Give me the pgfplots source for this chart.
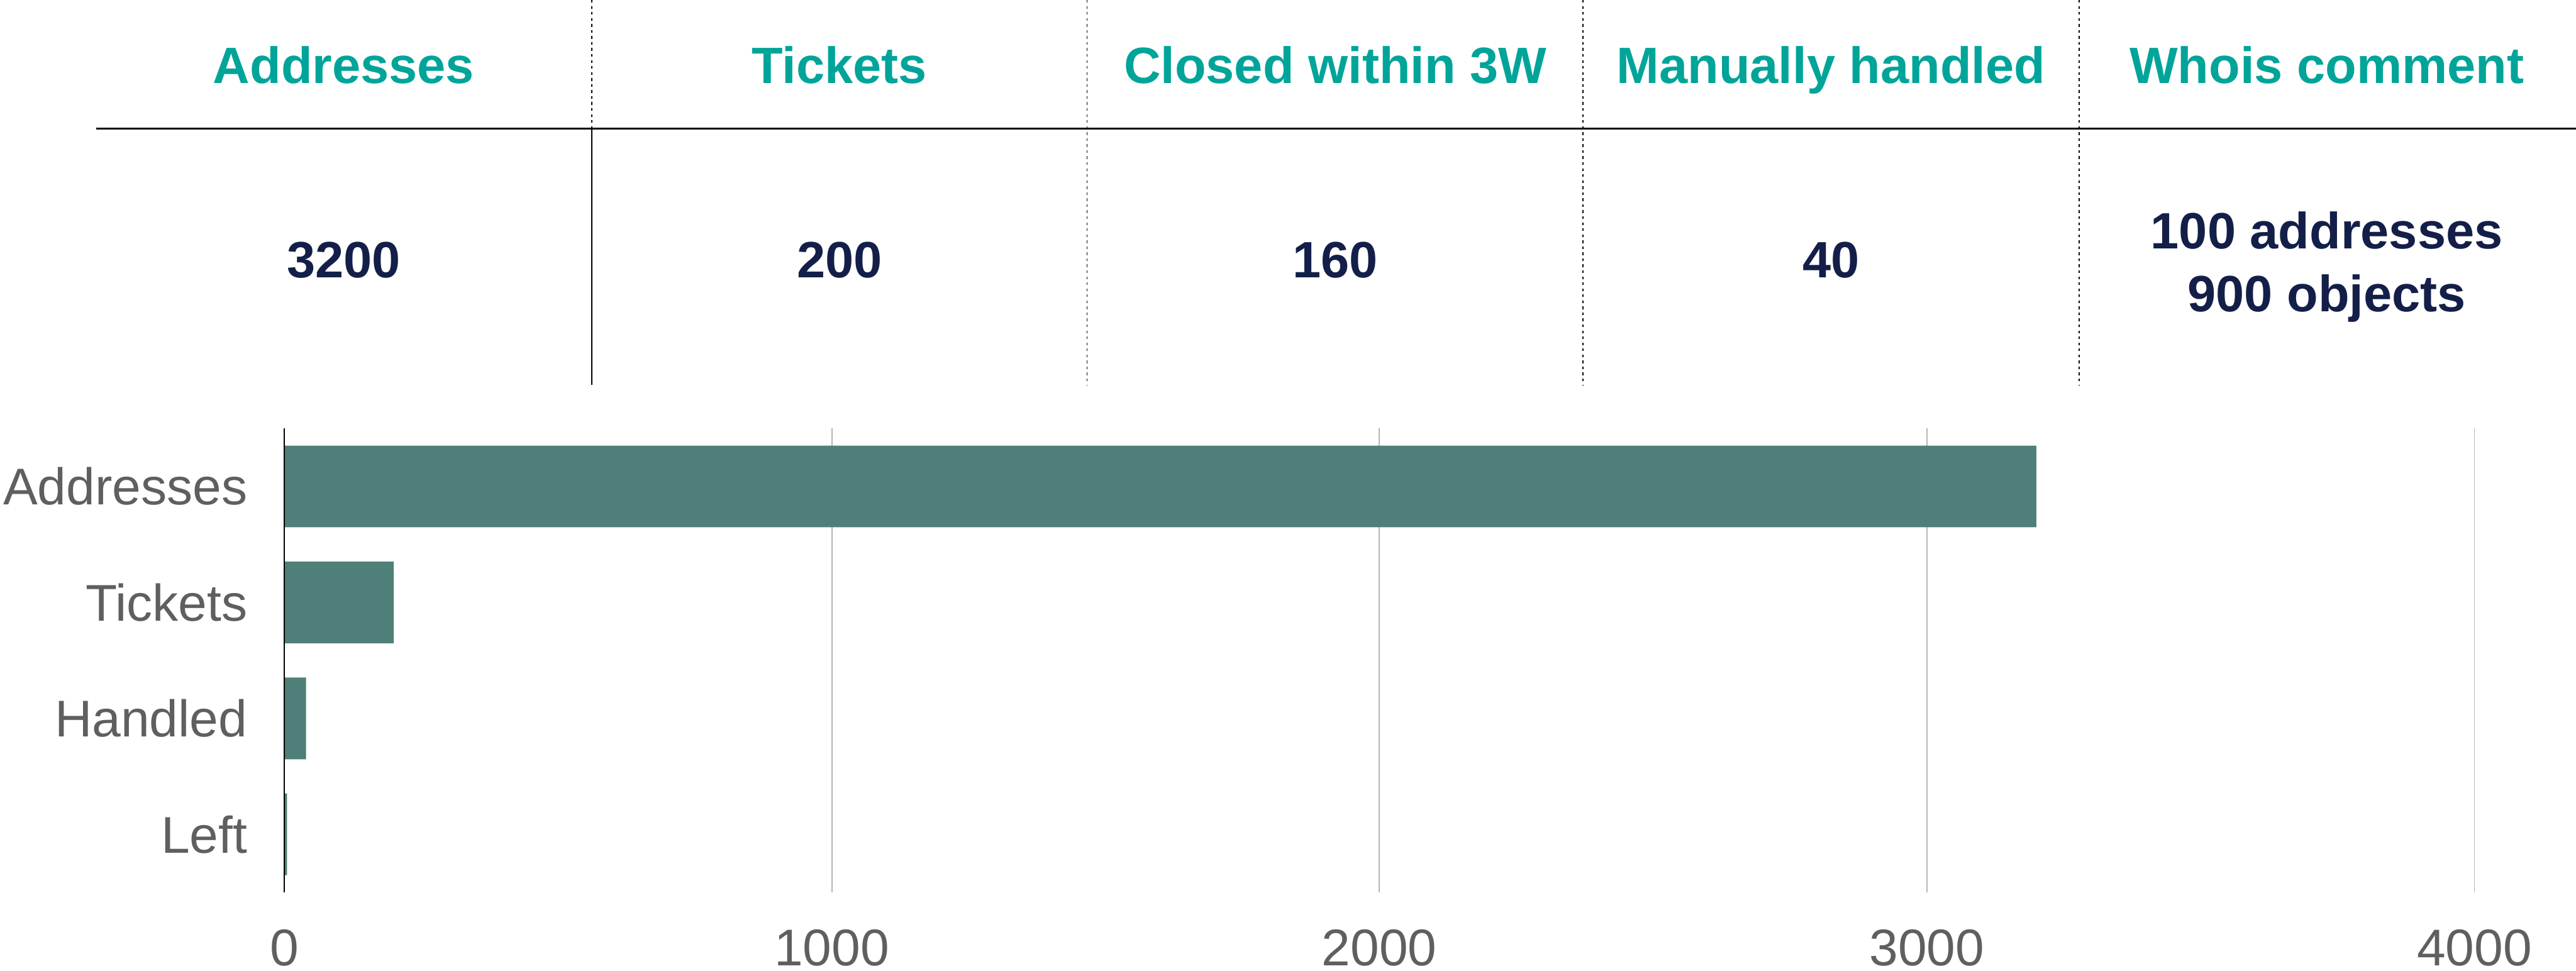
\documentclass[border=0pt]{standalone}
\usepackage{fontspec}
\setmainfont{Liberation Sans}
\usepackage{pgfplots}
\pgfplotsset{compat=1.18}
\definecolor{tealh}{HTML}{00A499}
\definecolor{navy}{HTML}{131F48}
\definecolor{barc}{HTML}{4E7F78}
\definecolor{lab}{HTML}{5F5F5F}
\definecolor{gridc}{HTML}{B5B5B5}
\begin{document}
\begin{tikzpicture}
\begin{axis}[
  at={(47.3pt,-148.5pt)}, anchor=south west,
  scale only axis, width=364.5pt, height=77.2pt,
  xmin=0, xmax=4000, ymin=-0.5, ymax=3.5, y dir=reverse,
  xbar, bar width=13.6pt, bar shift=0pt,
  axis line style={draw=none},
  xtick={0,1000,2000,3000,4000},
  xmajorgrids, grid style={gridc, line width=0.2pt},
  ytick={0,1,2,3}, yticklabels={Addresses,Tickets,Handled,Left},
  major tick length=0pt, tick style={draw=none},
  ticklabel style={font=\fontsize{8.6}{10}\selectfont, text=lab},
  /pgf/number format/assume math mode=true,
  scaled x ticks=false,
  /pgf/number format/1000 sep={},
  xticklabel style={yshift=-2.7pt},
  yticklabel style={xshift=-2.6pt},
  clip=false,
]
\addplot[fill=barc, draw=none] coordinates {(3200,0) (200,1) (40,2) (5,3)};
\draw[black, line width=0.22pt] (axis cs:0,-0.5) -- (axis cs:0,3.5);
\end{axis}
\begin{scope}[x=0.1pt,y=-0.1pt]
\foreach \cx/\t in {572/Addresses,1397/Tickets,2222/Closed within 3W,3047/Manually handled,3872/Whois comment}
  \node[font=\fontsize{8.5}{10}\selectfont\bfseries, text=tealh, inner sep=0, anchor=base] at (\cx,139) {\t};
\foreach \cx/\t in {572/3200,1397/200,2222/160,3047/40}
  \node[font=\fontsize{8.5}{10}\selectfont\bfseries, text=navy, inner sep=0, anchor=base] at (\cx,462) {\t};
\node[font=\fontsize{8.5}{10}\selectfont\bfseries, text=navy, inner sep=0, anchor=base] at (3872,414) {100 addresses};
\node[font=\fontsize{8.5}{10}\selectfont\bfseries, text=navy, inner sep=0, anchor=base] at (3872,519) {900 objects};
\draw[black, line width=0.32pt] (160,214) -- (4287,214);
\draw[black, line width=0.17pt] (985,214) -- (985,640);
\draw[black, line width=0.18pt, dash pattern=on 0.45pt off 0.55pt] (985,0) -- (985,214);
\foreach \lx in {1809,2634,3460}
  \draw[black, line width=0.18pt, dash pattern=on 0.45pt off 0.55pt] (\lx,0) -- (\lx,640);
\end{scope}
\pgfresetboundingbox
\path (0pt,0pt) rectangle (428.7pt,-161.5pt);
\end{tikzpicture}
\end{document}
